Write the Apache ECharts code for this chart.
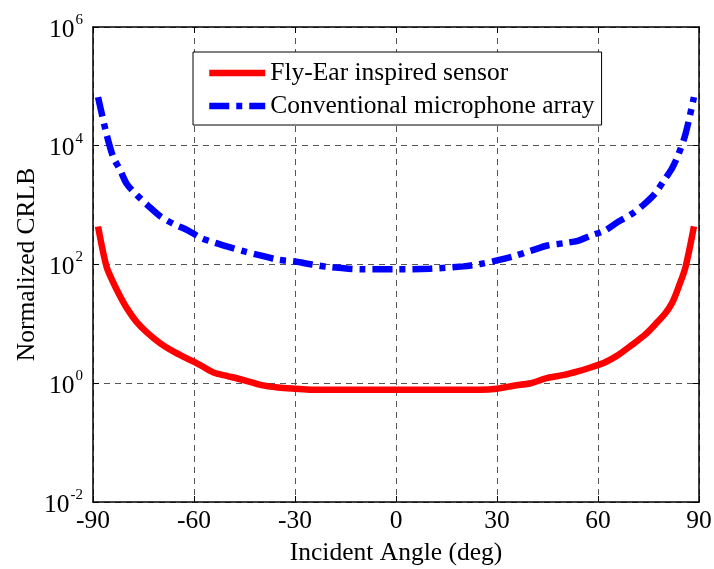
<!DOCTYPE html>
<html>
<head>
<meta charset="utf-8">
<script src="https://cdn.jsdelivr.net/npm/echarts@6/dist/echarts.min.js"></script>
<style>html,body{margin:0;padding:0;background:#fff;}#c{width:714px;height:569px;}</style>
</head>
<body>
<div id="c"></div>
<script>
const angles = [-88.5,-86,-84,-82,-80,-77,-74,-70,-66,-62,-58,-54,-50,-45,-40,-35,-30,-25,-20,-10,0,10,20,25,30,35,40,45,50,54,58,62,66,70,74,77,80,82,84,86,88.5];
const flyEar = [437,93,50,29.5,18.6,10.7,7.2,4.7,3.4,2.6,2.0,1.5,1.32,1.12,0.93,0.85,0.81,0.78,0.78,0.78,0.78,0.78,0.78,0.78,0.81,0.91,1.0,1.23,1.38,1.58,1.86,2.24,3.0,4.4,6.6,9.8,15.1,22.4,42.7,91,437];
const conventional = [66000,15850,6460,3980,2290,1480,1023,646,479,380,282,234,200,166,141,120,112,100,91,83,83,85,93,102,117,138,170,209,229,251,309,372,525,708,1072,1585,2818,4169,7400,15850,66000];
const seriesNames = ['Fly-Ear inspired sensor','Conventional microphone array'];
const xTicks = [-90,-60,-30,0,30,60,90];
const yExponents = [-2,0,2,4,6];
const xTitle = 'Incident Angle (deg)';
const yTitle = 'Normalized CRLB';

const FONT = 'Liberation Serif';
const FS = 25.5;
const chart = echarts.init(document.getElementById('c'));
const pairs = arr => angles.map((a,i)=>[a,arr[i]]);
const gridLine = {show:true,lineStyle:{color:'#555',type:[6,5],width:1}};
const tickIn = {show:true,inside:true,length:6,lineStyle:{color:'#000',width:1}};
chart.setOption({
  animation:false,
  backgroundColor:'#fff',
  grid:{left:93,top:27,right:15,bottom:67,containLabel:false,outerBoundsMode:'none'},
  legend:{
    orient:'vertical',left:193,top:52,
    backgroundColor:'#fff',borderColor:'#000',borderWidth:1,
    padding:[8,7,6,13],itemGap:7,itemWidth:56,itemHeight:7,
    itemStyle:{color:'transparent',borderWidth:0,opacity:0},
    lineStyle:{width:6.5},
    textStyle:{fontFamily:FONT,fontSize:FS,color:'#000',lineHeight:26},
    data:seriesNames
  },
  xAxis:[{
    type:'value',min:xTicks[0],max:xTicks[xTicks.length-1],interval:30,
    name:xTitle,nameLocation:'middle',nameGap:38,nameMoveOverlap:false,
    nameTextStyle:{fontFamily:FONT,fontSize:FS,color:'#000'},
    axisLine:{show:true,onZero:false,lineStyle:{color:'#000',width:1.5}},
    axisTick:tickIn,
    axisLabel:{fontFamily:FONT,fontSize:FS,color:'#000',margin:6},
    splitLine:gridLine
  },{
    type:'value',position:'top',min:xTicks[0],max:xTicks[xTicks.length-1],interval:30,
    axisLine:{show:true,onZero:false,lineStyle:{color:'#000',width:1.5}},
    axisTick:tickIn,axisLabel:{show:false},splitLine:{show:false}
  }],
  yAxis:[{
    type:'log',logBase:10,min:Math.pow(10,yExponents[0]),max:Math.pow(10,yExponents[yExponents.length-1]),interval:2,
    name:yTitle,nameLocation:'middle',nameGap:53,nameMoveOverlap:false,
    nameTextStyle:{fontFamily:FONT,fontSize:FS,color:'#000'},
    axisLine:{show:true,onZero:false,lineStyle:{color:'#000',width:1.5}},
    axisTick:tickIn,
    axisLabel:{
      margin:10,
      formatter:v=>'{b|10}{s|'+Math.round(Math.log10(v))+'}',
      rich:{
        b:{fontFamily:FONT,fontSize:FS,color:'#000',padding:[6,0,0,0]},
        s:{fontFamily:FONT,fontSize:15,color:'#000',padding:[0,0,14,1]}
      }
    },
    splitLine:gridLine,minorTick:{show:false}
  },{
    type:'log',logBase:10,position:'right',min:Math.pow(10,yExponents[0]),max:Math.pow(10,yExponents[yExponents.length-1]),interval:2,
    axisLine:{show:true,onZero:false,lineStyle:{color:'#000',width:1.5}},
    axisTick:tickIn,axisLabel:{show:false},splitLine:{show:false}
  }],
  series:[{
    name:seriesNames[0],type:'line',data:pairs(flyEar),symbol:'none',smooth:0.3,
    lineStyle:{color:'#ff0000',width:6.5},itemStyle:{color:'#ff0000'}
  },{
    name:seriesNames[1],type:'line',data:pairs(conventional),symbol:'none',smooth:0.3,
    lineStyle:{color:'#0000ff',width:6.5,type:[20,7,6,7],cap:'butt'},itemStyle:{color:'#0000ff'}
  }]
});
</script>
</body>
</html>
